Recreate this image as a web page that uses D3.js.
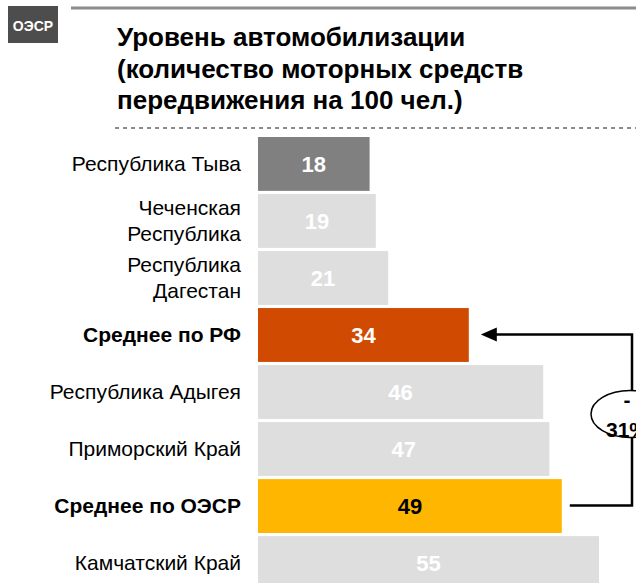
<!DOCTYPE html>
<html>
<head>
<meta charset="utf-8">
<script src="https://d3js.org/d3.v7.min.js"></script>
<style>
  body { margin: 0; background: #fff; }
  svg { display: block; font-family: Arial, "Liberation Sans", sans-serif; }
</style>
</head>
<body>
<svg width="636" height="583"></svg>
<script>
// data
var labels = [["Республика Тыва"], ["Чеченская", "Республика"], ["Республика", "Дагестан"],
              ["Среднее по РФ"], ["Республика Адыгея"], ["Приморский Край"],
              ["Среднее по ОЭСР"], ["Камчатский Край"]];
var values = [18, 19, 21, 34, 46, 47, 49, 55];
var kinds = ["focus", "other", "other", "rf", "other", "other", "oecd", "other"];
var titleLines = ["Уровень автомобилизации", "(количество моторных средств", "передвижения на 100 чел.)"];
var gapLabel = ["-", "31%"];

var fill = { focus: "#808080", other: "#dedede", rf: "#d04a02", oecd: "#ffb600" };
var textFill = { focus: "#fff", other: "#fff", rf: "#fff", oecd: "#000" };

var svg = d3.select("svg");

// badge
svg.append("rect").attr("x", 8).attr("y", 6).attr("width", 50).attr("height", 37).attr("fill", "#4d4d4d");
svg.append("text").attr("x", 33).attr("y", 31).attr("text-anchor", "middle")
  .attr("fill", "#fff").attr("font-weight", "bold").attr("font-size", 14).text("ОЭСР");

// top rule + title
svg.append("line").attr("x1", 71).attr("x2", 636).attr("y1", 8).attr("y2", 8)
  .attr("stroke", "#8c8c8c").attr("stroke-width", 3);
svg.append("g").selectAll("text").data(titleLines).join("text")
  .attr("x", 117).attr("y", function(d, i) { return 46 + i * 31.5; })
  .attr("font-size", 26).attr("font-weight", "bold").attr("fill", "#000")
  .text(function(d) { return d; });
svg.append("line").attr("x1", 115).attr("x2", 636).attr("y1", 128).attr("y2", 128)
  .attr("stroke", "#8c8c8c").attr("stroke-width", 2).attr("stroke-dasharray", "4,4");

// scales
var x = d3.scaleLinear().domain([0, 55]).range([258, 599]);
var y = d3.scaleBand().domain(d3.range(values.length)).range([137, 590]).paddingInner(0.055).paddingOuter(0);

var rows = svg.append("g").selectAll("g").data(values).join("g");

rows.append("rect")
  .attr("x", x(0)).attr("y", function(d, i) { return y(i); })
  .attr("width", function(d) { return x(d) - x(0); })
  .attr("height", y.bandwidth())
  .attr("fill", function(d, i) { return fill[kinds[i]]; });

rows.append("text")
  .attr("x", function(d) { return (x(0) + x(d)) / 2; })
  .attr("y", function(d, i) { return y(i) + y.bandwidth() / 2 + 8; })
  .attr("text-anchor", "middle").attr("font-size", 22).attr("font-weight", "bold")
  .attr("fill", function(d, i) { return textFill[kinds[i]]; })
  .text(function(d) { return d; });

rows.append("text")
  .attr("text-anchor", "end").attr("font-size", 21)
  .attr("font-weight", function(d, i) { return kinds[i] === "rf" || kinds[i] === "oecd" ? "bold" : "normal"; })
  .attr("fill", "#000")
  .each(function(d, i) {
    var lines = labels[i];
    var cy = y(i) + y.bandwidth() / 2;
    d3.select(this).selectAll("tspan").data(lines).join("tspan")
      .attr("x", 241)
      .attr("y", function(l, j) { return cy + 7 + (j - (lines.length - 1) / 2) * 26; })
      .text(function(l) { return l; });
  });

// gap arrow between OECD and RF averages
var iRF = kinds.indexOf("rf"), iO = kinds.indexOf("oecd");
var yTop = y(iRF) + y.bandwidth() / 2 - 0.5, yBot = y(iO) + y.bandwidth() / 2 - 0.5;
var xr = 632;
svg.append("path")
  .attr("d", "M" + (x(values[iO]) + 8) + "," + yBot + "H" + xr + "V" + yTop + "H" + (x(values[iRF]) + 26))
  .attr("fill", "none").attr("stroke", "#000").attr("stroke-width", 2.5);
svg.append("path")
  .attr("d", "M" + (x(values[iRF]) + 12) + "," + yTop + "l16,-7v14z")
  .attr("fill", "#000");
var ecy = (yTop + yBot) / 2 - 6;
svg.append("ellipse").attr("cx", 630).attr("cy", ecy).attr("rx", 39).attr("ry", 23.5)
  .attr("fill", "#fff").attr("stroke", "#000").attr("stroke-width", 1.5);
svg.append("g").selectAll("text").data(gapLabel).join("text")
  .attr("x", 627).attr("y", function(d, i) { return ecy - 7 + i * 30; })
  .attr("text-anchor", "middle").attr("font-size", 21).attr("font-weight", "bold")
  .text(function(d) { return d; });
</script>
</body>
</html>
